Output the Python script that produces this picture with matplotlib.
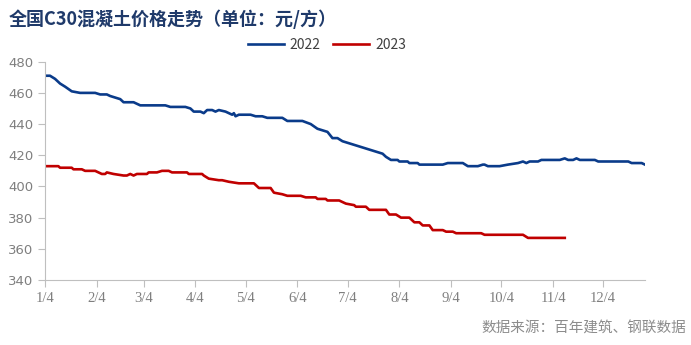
import matplotlib.pyplot as plt
import pandas as pd

plt.rcParams['font.family'] = ['Noto Sans CJK SC', 'DejaVu Sans']

# 2022 price (yuan / m3), month-day of the point
dates_2022 = ["01-04", "01-07", "01-10", "01-13", "01-16", "01-20", "01-25", "02-03", "02-06",
              "02-10", "02-12", "02-15", "02-18", "02-20", "02-26", "03-02", "03-17", "03-20",
              "03-29", "04-01", "04-03", "04-07", "04-09", "04-11", "04-14", "04-16", "04-18",
              "04-22", "04-24", "04-26", "04-27", "04-28", "04-30", "05-07", "05-10", "05-14",
              "05-17", "05-26", "05-29", "06-07", "06-12", "06-16", "06-19", "06-22", "06-25",
              "06-28", "07-01", "07-04", "07-07", "07-13", "07-16", "07-19", "07-22", "07-25",
              "07-27", "07-30", "08-03", "08-04", "08-09", "08-10", "08-15", "08-16", "08-30",
              "09-02", "09-11", "09-14", "09-20", "09-23", "09-24", "09-26", "09-29", "10-03",
              "10-08", "10-14", "10-17", "10-19", "10-21", "10-26", "10-28", "11-08", "11-11",
              "11-13", "11-16", "11-18", "11-20", "11-29", "12-01", "12-19", "12-21", "12-27",
              "12-29"]
price_2022 = [471, 471, 469, 466, 464, 461, 460, 460, 459,
              459, 458, 457, 456, 454, 454, 452, 452, 451,
              451, 450, 448, 448, 447, 449, 449, 448, 449,
              448, 447, 446, 447, 445, 446, 446, 445, 445,
              444, 444, 442, 442, 440, 437, 436, 435, 431,
              431, 429, 428, 427, 425, 424, 423, 422, 421,
              419, 417, 417, 416, 416, 415, 415, 414, 414,
              415, 415, 413, 413, 414, 414, 413, 413, 413,
              414, 415, 416, 415, 416, 416, 417, 417, 418,
              417, 417, 418, 417, 417, 416, 416, 415, 415,
              414]

dates_2023 = ["01-05", "01-12", "01-13", "01-20", "01-21", "01-26", "01-28", "02-03", "02-05",
              "02-07", "02-09", "02-10", "02-14", "02-20", "02-22", "02-24", "02-26", "02-28",
              "03-06", "03-07", "03-12", "03-15", "03-19", "03-21", "03-30", "03-31", "04-08",
              "04-09", "04-12", "04-18", "04-20", "04-24", "04-30", "05-09", "05-11", "05-12",
              "05-19", "05-21", "05-26", "05-29", "06-06", "06-09", "06-15", "06-16", "06-21",
              "06-22", "06-29", "07-03", "07-08", "07-09", "07-15", "07-17", "07-27", "07-29",
              "08-02", "08-05", "08-10", "08-13", "08-16", "08-18", "08-22", "08-24", "08-30",
              "09-01", "09-05", "09-07", "09-22", "09-24", "10-17", "10-20", "11-11"]
price_2023 = [413, 413, 412, 412, 411, 411, 410, 410, 409,
              408, 408, 409, 408, 407, 407, 408, 407, 408,
              408, 409, 409, 410, 410, 409, 409, 408, 408,
              407, 405, 404, 404, 403, 402, 402, 400, 399,
              399, 396, 395, 394, 394, 393, 393, 392, 392,
              391, 391, 389, 388, 387, 387, 385, 385, 382,
              382, 380, 380, 377, 377, 375, 375, 372, 372,
              371, 371, 370, 370, 369, 369, 367, 367]

tick_labels = ["1/4", "2/4", "3/4", "4/4", "5/4", "6/4", "7/4", "8/4", "9/4", "10/4", "11/4", "12/4"]

to_dt = lambda md: pd.to_datetime(["2022-" + d for d in md])

fig = plt.figure(figsize=(6.91, 3.45), dpi=100)
ax = fig.add_axes([45 / 691, 65 / 345, 600 / 691, 218.3 / 345])

ax.plot(to_dt(dates_2022), price_2022, color='#0a3b8a', lw=1.9, label='2022')
ax.plot(to_dt(dates_2023), price_2023, color='#c00000', lw=1.9, label='2023')

ax.set_ylim(340, 480)
ax.set_yticks(range(340, 481, 20))
ax.set_xlim(pd.Timestamp("2022-01-04"), pd.Timestamp("2022-12-29"))
ticks = pd.to_datetime(["2022-%02d-04" % m for m in range(1, 13)])
ax.set_xticks(ticks)
ax.set_xticklabels(tick_labels, family='Liberation Serif', fontsize=10.5)

for s in ['top', 'right']:
    ax.spines[s].set_visible(False)
for s in ['left', 'bottom']:
    ax.spines[s].set_color('#bfbfbf')
ax.tick_params(axis='both', colors='#bfbfbf', labelcolor='#7f7f7f', length=5)
for lab in ax.get_yticklabels():
    lab.set_family('DejaVu Sans')
    lab.set_fontsize(9.5)

ax.legend(loc='upper center', bbox_to_anchor=(0.47, 1.165), ncol=2, frameon=False,
          fontsize=10, labelcolor='#404040', handlelength=2.6, columnspacing=0.9, handletextpad=0.4)

fig.text(0.012, 0.945, "全国C30混凝土价格走势（单位：元/方）", fontsize=13, fontweight='bold',
         color='#1f3a6a', va='center')
fig.text(0.993, 0.048, "数据来源：百年建筑、钢联数据", fontsize=10.5, color='#8c8c8c',
         ha='right', va='center')

fig.savefig("out.png", dpi=100)
